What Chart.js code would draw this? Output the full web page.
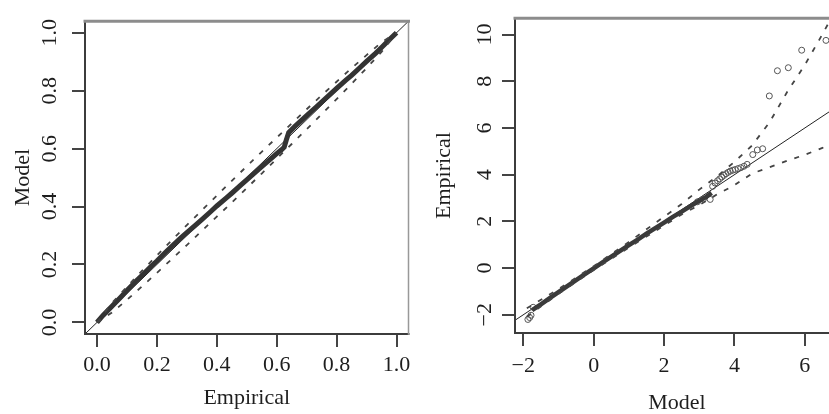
<!DOCTYPE html>
<html>
<head>
<meta charset="utf-8">
<script src="https://cdn.jsdelivr.net/npm/chart.js@4.4.0/dist/chart.umd.min.js"></script>
<style>
html, body { margin:0; padding:0; background:#fff; overflow:hidden; width:829px; height:414px; }
#ppBox { position:absolute; left:0; top:0; }
#qqBox { position:absolute; left:420px; top:0; }
</style>
</head>
<body>
<div id="ppBox"><canvas id="canvasPP" width="420" height="414"></canvas></div>
<div id="qqBox"><canvas id="canvasQQ" width="425" height="414"></canvas></div>
<script>
// P-P plot (left)
var ppEmpirical = [0, 0.02, 0.05, 0.08, 0.1, 0.13, 0.15, 0.18, 0.2, 0.23, 0.25, 0.28, 0.3, 0.33, 0.35, 0.38,
                   0.4, 0.43, 0.45, 0.48, 0.5, 0.53, 0.55, 0.58, 0.6, 0.615, 0.625, 0.632, 0.64, 0.66, 0.68,
                   0.7, 0.73, 0.75, 0.78, 0.8, 0.83, 0.85, 0.88, 0.9, 0.93, 0.95, 0.98, 1.0];
var ppModel     = [0, 0.024, 0.056, 0.088, 0.11, 0.142, 0.162, 0.193, 0.212, 0.243, 0.263, 0.292, 0.31, 0.337, 0.355, 0.383,
                   0.402, 0.428, 0.446, 0.474, 0.492, 0.52, 0.538, 0.565, 0.583, 0.595, 0.605, 0.63, 0.655, 0.676, 0.695,
                   0.714, 0.742, 0.761, 0.789, 0.808, 0.836, 0.853, 0.882, 0.901, 0.929, 0.949, 0.98, 1.0];
var ppBandX  = [0, 0.05, 0.1, 0.15, 0.2, 0.25, 0.3, 0.35, 0.4, 0.45, 0.5, 0.55, 0.6, 0.65, 0.7, 0.75, 0.8, 0.85, 0.9, 0.95, 1.0];
var ppUpper  = [0, 0.067, 0.123, 0.178, 0.231, 0.284, 0.336, 0.387, 0.438, 0.489, 0.539, 0.589, 0.638, 0.687, 0.736, 0.784, 0.831, 0.878, 0.923, 0.967, 1.0];
var ppLower  = [0, 0.034, 0.078, 0.124, 0.171, 0.219, 0.267, 0.316, 0.365, 0.414, 0.464, 0.514, 0.565, 0.616, 0.667, 0.719, 0.771, 0.824, 0.878, 0.934, 1.0];
var ppRef    = [-0.04, 1.04];
var ppTicks  = [0, 0.2, 0.4, 0.6, 0.8, 1.0];

// Q-Q plot (right)
var qqModel     = [-1.75, -1.5, -1.25, -1.0, -0.75, -0.5, -0.25, 0, 0.25, 0.5, 0.75, 1.0, 1.25, 1.5, 1.75, 2.0, 2.25, 2.5, 2.75, 3.0, 3.2, 3.35];
var qqEmpirical = [-1.8, -1.55, -1.29, -1.03, -0.77, -0.52, -0.26, -0.01, 0.24, 0.49, 0.74, 0.98, 1.22, 1.47, 1.71, 1.95, 2.19, 2.42, 2.65, 2.88, 3.05, 3.22];
var qqTailModel     = [-1.87, -1.82, -1.78, -1.72, 2.95, 3.12, 3.31, 3.38, 3.45, 3.52, 3.58, 3.64, 3.7, 3.76, 3.82, 3.88, 3.95,
                       4.02, 4.1, 4.18, 4.27, 4.36, 4.52, 4.65, 4.8, 4.99, 5.22, 5.53, 5.91, 6.6];
var qqTailEmpirical = [-2.2, -2.12, -2.02, -1.68, 2.84, 2.96, 2.94, 3.5, 3.64, 3.74, 3.82, 3.9, 3.97, 4.04, 4.1, 4.15, 4.19,
                       4.22, 4.26, 4.3, 4.36, 4.44, 4.86, 5.06, 5.11, 7.37, 8.45, 8.58, 9.33, 9.75];
var qqBandX  = [-1.9, -1.0, 0, 1.0, 1.5, 2.0, 2.5, 3.0, 3.5, 4.0, 4.5, 5.0, 5.5, 6.0, 6.4, 6.75];
var qqUpper  = [-1.72, -0.9, 0.08, 1.12, 1.66, 2.2, 2.74, 3.36, 3.92, 4.55, 5.25, 6.25, 7.55, 8.7, 9.75, 10.7];
var qqLowX   = [-1.9, -1.0, 0, 1.0, 2.0, 2.5, 3.0, 3.5, 4.0, 4.5, 5.0, 5.5, 6.0, 6.5, 6.97];
var qqLower  = [-2.08, -1.1, -0.08, 0.88, 1.82, 2.3, 2.7, 3.15, 3.55, 4.05, 4.32, 4.6, 4.85, 5.15, 5.4];
var qqRef    = [-2.24, 6.97];
var qqXTicks = [-2, 0, 2, 4, 6];
var qqYTicks = [-2, 0, 2, 4, 6, 8, 10];

var ink = '#1e1e1e';
var serif = 'Liberation Serif';

function pts(xs, ys) {
  return xs.map(function (x, i) { return {x: x, y: ys[i]}; });
}
function minus(v) { return String(v).replace('-', '\u2212'); }

// R style box around the plot region
var boxPlugin = {
  id: 'box',
  afterDatasetsDraw: function (chart) {
    var a = chart.chartArea, c = chart.ctx;
    c.save();
    c.lineCap = 'square';
    c.strokeStyle = '#3c3c3c'; c.lineWidth = 2;
    c.beginPath(); c.moveTo(a.left, a.top); c.lineTo(a.left, a.bottom); c.lineTo(a.right, a.bottom); c.stroke();
    c.strokeStyle = '#999'; c.lineWidth = 1.5;
    c.beginPath(); c.moveTo(a.right, a.bottom); c.lineTo(a.right, a.top); c.stroke();
    c.strokeStyle = '#8c8c8c'; c.lineWidth = 3;
    c.beginPath(); c.moveTo(a.left, a.top); c.lineTo(a.right, a.top); c.stroke();
    c.restore();
  }
};

function axis(o) {
  var s = {
    type: 'linear',
    min: o.min, max: o.max,
    afterBuildTicks: function (sc) { sc.ticks = o.ticks.map(function (v) { return {value: v}; }); },
    afterFit: function (sc) { if (o.w) sc.width = o.w; if (o.h) sc.height = o.h; },
    grid: { drawOnChartArea: false, drawTicks: true, tickLength: 13, color: '#444', lineWidth: 2 },
    border: { display: false },
    ticks: {
      autoSkip: false, color: ink, padding: o.pad,
      font: { family: serif, size: 22 },
      callback: o.fmt
    },
    title: {
      display: true, text: o.title, color: ink,
      font: { family: serif, size: 22, lineHeight: 1 },
      padding: o.tpad
    }
  };
  if (o.rot) { s.ticks.minRotation = 90; s.ticks.maxRotation = 90; s.ticks.crossAlign = 'center'; }
  return s;
}

var dashed = { showLine: true, pointRadius: 0, borderColor: '#444', borderWidth: 1.8, borderDash: [5, 8], fill: false };

// left: P-P
new Chart(document.getElementById('canvasPP').getContext('2d'), {
  type: 'scatter',
  data: {
    datasets: [
      Object.assign({ data: pts(ppBandX, ppUpper) }, dashed),
      Object.assign({ data: pts(ppBandX, ppLower) }, dashed),
      { data: pts(ppEmpirical, ppModel), showLine: true, pointRadius: 0, borderColor: '#333', borderWidth: 5 },
      { data: pts(ppRef, ppRef), showLine: true, pointRadius: 0, borderColor: '#222', borderWidth: 1 }
    ]
  },
  options: {
    responsive: false, animation: false,
    layout: { padding: { left: 0, right: 11.5, top: 11, bottom: 0 } },
    plugins: { legend: { display: false }, tooltip: { enabled: false } },
    scales: {
      x: axis({ min: -0.04, max: 1.04, ticks: ppTicks, h: 80, pad: 5, title: 'Empirical', tpad: { top: 0, bottom: 5 },
                fmt: function (v) { return v.toFixed(1); } }),
      y: axis({ min: -0.04, max: 1.04, ticks: ppTicks, w: 85, pad: 8, rot: true, title: 'Model', tpad: { top: 12, bottom: 0 },
                fmt: function (v) { return v.toFixed(1); } })
    }
  },
  plugins: [boxPlugin]
});

// right: Q-Q
new Chart(document.getElementById('canvasQQ').getContext('2d'), {
  type: 'scatter',
  data: {
    datasets: [
      Object.assign({ data: pts(qqBandX, qqUpper) }, dashed),
      Object.assign({ data: pts(qqLowX, qqLower) }, dashed),
      { data: pts(qqModel, qqEmpirical), showLine: true, pointRadius: 0, borderColor: '#3a3a3a', borderWidth: 4.5 },
      { data: pts(qqTailModel, qqTailEmpirical), pointRadius: 3, pointBorderWidth: 1, pointBorderColor: '#555', pointBackgroundColor: 'rgba(255,255,255,0)' },
      { data: pts(qqRef, qqRef), showLine: true, pointRadius: 0, borderColor: '#222', borderWidth: 1 }
    ]
  },
  options: {
    responsive: false, animation: false,
    layout: { padding: { left: 0, right: 6, top: 12, bottom: 0 } },
    plugins: { legend: { display: false }, tooltip: { enabled: false } },
    scales: {
      x: axis({ min: -2.236, max: 6.97, ticks: qqXTicks, h: 81, pad: 7.5, title: 'Model', tpad: { top: 0, bottom: 0 }, fmt: minus }),
      y: axis({ min: -2.78, max: 10.7, ticks: qqYTicks, w: 95, pad: 5, rot: true, title: 'Empirical', tpad: { top: 13.5, bottom: 0 }, fmt: minus })
    }
  },
  plugins: [boxPlugin]
});
</script>
</body>
</html>
